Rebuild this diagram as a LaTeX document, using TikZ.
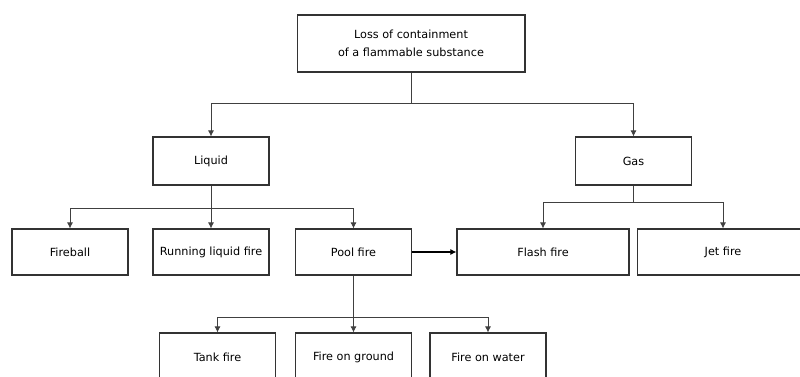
\documentclass[tikz,border=0pt]{standalone}
\usepackage{fontspec}
\setmainfont{DejaVu Sans}
\usetikzlibrary{arrows.meta}

\begin{document}
\begin{tikzpicture}[x=0.02cm, y=-0.02cm,
	box/.style={draw=black!80, line width=0.6pt, minimum width=2.32cm, minimum height=0.92cm, inner sep=1pt, font=\fontsize{6.4}{10}\selectfont, align=center},
	link/.style={draw=black!75, line width=0.5pt, -{Latex[length=3.5pt, width=3.5pt]}}]

	\useasboundingbox (0,0) rectangle (800,377);

	% top
	\node [box, minimum width=4.56cm, minimum height=1.14cm] (loss) at (411, 43.5) {Loss of containment\\of a flammable substance};

	% liquid / gas
	\node [box, minimum height=0.96cm] (liquid) at (211, 161) {Liquid};
	\node [box, minimum height=0.96cm] (gas) at (633.5, 161) {Gas};

	\coordinate (split0) at (411, 103);
	\draw [link] (loss.south) -- (split0) -| (liquid.north);
	\draw [link] (split0) -| (gas.north);

	% fire types
	\node [box] (fireball) at (70, 252) {Fireball};
	\node [box] (running) at (211, 252) {Running liquid fire};
	\node [box] (pool) at (353.5, 252) {Pool fire};
	\node [box, minimum width=3.44cm] (flash) at (543, 252) {Flash fire};
	\node [box, minimum width=3.44cm] (jet) at (723, 252) {Jet fire};

	\coordinate (split1) at (211, 208);
	\draw [link] (liquid.south) -- (split1) -| (fireball.north);
	\draw [link] (split1) -- (running.north);
	\draw [link] (split1) -| (pool.north);

	\coordinate (split2) at (633.5, 202);
	\draw [link] (gas.south) -- (split2) -| (flash.north);
	\draw [link] (split2) -| (jet.north);

	\draw [link, draw=black, line width=1pt] (pool.east) -- (flash.west);

	% pool fire
	\node [box, minimum height=0.96cm] (tank) at (217.5, 357) {Tank fire};
	\node [box, minimum height=0.96cm] (ground) at (353.5, 357) {Fire on ground};
	\node [box, minimum height=0.96cm] (water) at (488, 357) {Fire on water};

	\coordinate (split3) at (353.5, 317);
	\draw [link] (pool.south) -- (split3) -| (tank.north);
	\draw [link] (split3) -- (ground.north);
	\draw [link] (split3) -| (water.north);
\end{tikzpicture}
\end{document}
